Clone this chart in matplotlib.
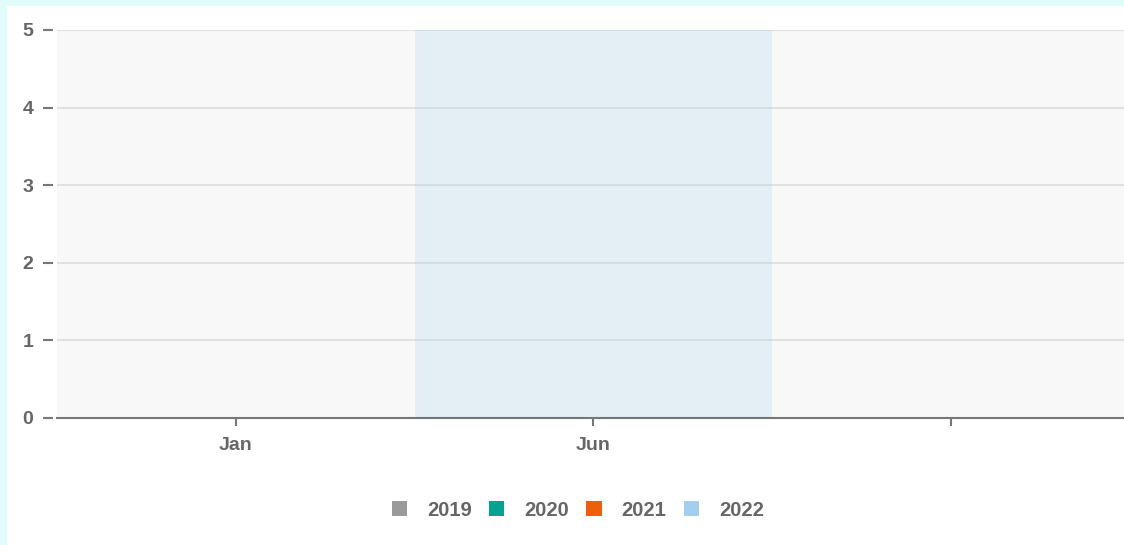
from matplotlib import pyplot as plt
from matplotlib.patches import Rectangle
import numpy as np

plt.rcParams['font.family'] = ['Liberation Sans', 'DejaVu Sans']

# chart data
months = ["Jan", "Jun", ""]
years = ["2019", "2020", "2021", "2022"]
values_2019 = [0, 0, 0]
values_2020 = [0, 0, 0]
values_2021 = [0, 0, 0]
values_2022 = [0, 0, 0]
colors = ["#9a9a9a", "#00a292", "#ee5f0b", "#a2cfee"]
highlight = 1  # highlighted month index

W, H = 1124, 545
fig = plt.figure(figsize=(W / 100, H / 100), dpi=100, facecolor="#e0fdfb")
fig.patches.append(Rectangle((7 / W, 0), 1 - 7 / W, 1 - 6 / H, transform=fig.transFigure,
                             facecolor="white", edgecolor="none", zorder=-10))

left, right, top, bottom = 57, 1129.5, 30, 418
ax = fig.add_axes([left / W, 1 - bottom / H, (right - left) / W, (bottom - top) / H])
ax.set_facecolor("#f8f8f8")

x = np.arange(len(months))
width = 0.18
for i, (yr, vals) in enumerate(zip(years, [values_2019, values_2020, values_2021, values_2022])):
    ax.bar(x + (i - 1.5) * width, vals, width, color=colors[i], label=yr, zorder=3)

# highlighted band, drawn over the grid with some transparency
ax.axvspan(highlight - 0.5, highlight + 0.5, color="#a2cfee", alpha=0.24, lw=0, zorder=2.5)
ax.set_xlim(-0.5, len(months) - 0.5)
ax.set_ylim(0, 5)
ax.set_yticks(range(6))
ax.yaxis.grid(True, color="#dddddd", linewidth=1.2, zorder=2)
ax.set_axisbelow(True)
ax.set_xticks(x)
ax.set_xticklabels(months)

for s in ["top", "right", "left"]:
    ax.spines[s].set_visible(False)
ax.spines["left"].set_position(("outward", 3))
ax.spines["bottom"].set_color("#777777")
ax.spines["bottom"].set_linewidth(1.5)
ax.spines["bottom"].set_zorder(4)

ax.tick_params(axis="y", length=7, width=1.5, color="#777777", pad=7,
               labelsize=14, labelcolor="#666666")
ax.tick_params(axis="x", length=6, width=1.5, color="#777777", pad=7.5,
               labelsize=14, labelcolor="#666666")
for lbl in ax.get_xticklabels() + ax.get_yticklabels():
    lbl.set_fontweight("bold")

leg = fig.legend(loc="center", bbox_to_anchor=(578 / W, 1 - 510 / H), ncol=4, frameon=False,
                 handlelength=0.75, handleheight=0.75, handletextpad=1.0, columnspacing=0.85,
                 prop={"size": 14.5, "weight": "bold"})
for t in leg.get_texts():
    t.set_color("#666666")

fig.savefig("out.png", dpi=100, facecolor=fig.get_facecolor())
